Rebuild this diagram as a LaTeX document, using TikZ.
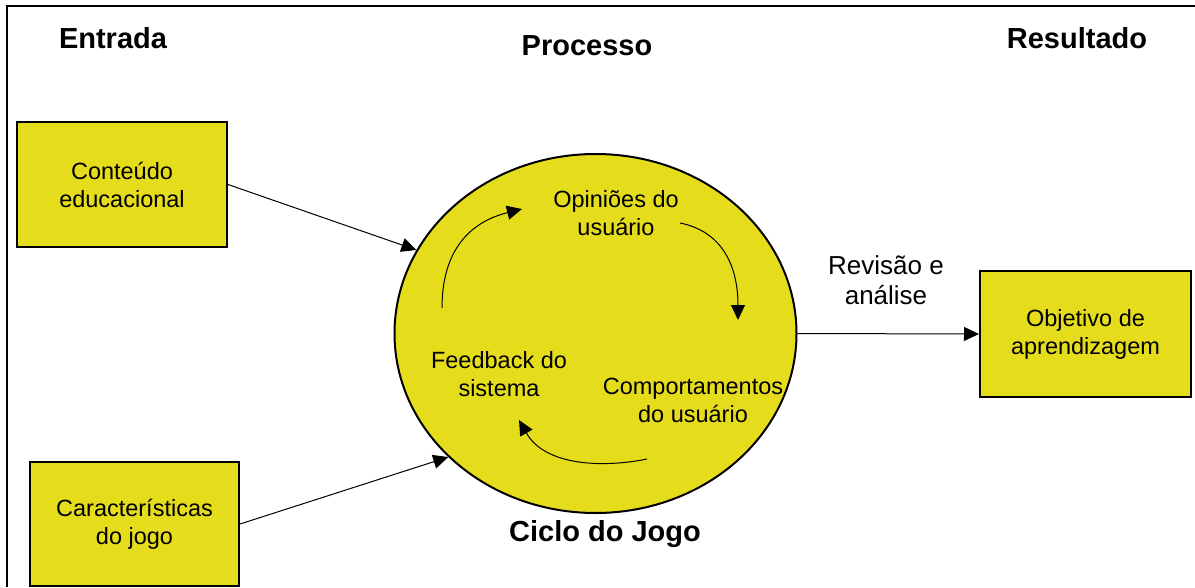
\documentclass[tikz,border=0pt]{standalone}
\usepackage{fontspec}
\setmainfont{Liberation Sans}
\usetikzlibrary{shapes.geometric,arrows.meta}
\definecolor{fillyellow}{RGB}{229,221,28}
\tikzset{
  inbox/.style={draw=black, line width=2pt, fill=fillyellow, inner sep=0pt, align=center,
    font=\fontsize{23.5}{28}\selectfont},
  heading/.style={anchor=base, inner sep=0pt, font=\fontsize{29}{34}\selectfont\bfseries},
  label/.style={inner sep=0pt, align=center, font=\fontsize{23.5}{28}\selectfont},
  conn/.style={line width=1pt, -{Triangle[length=15pt,width=14pt]}},
}
\begin{document}
\begin{tikzpicture}[x=1pt, y=-1pt]
\useasboundingbox (0,0) rectangle (1195,587);
% frame
\draw[line width=1.5pt] (7,587) -- (7,6) -- (1195,6);
% headings
\node[heading] (hin) at (113,48) {Entrada};
\node[heading] (hproc) at (587,55) {Processo};
\node[heading] (hout) at (1077,48) {Resultado};
% boxes
\node[inbox, minimum width=210pt, minimum height=125pt] (b1) at (122,184.5) {Conteúdo\\educacional};
\node[inbox, minimum width=209pt, minimum height=124pt] (b2) at (134.5,524) {Características\\do jogo};
\node[inbox, minimum width=211pt, minimum height=126pt] (b3) at (1085.5,334) {Objetivo de\\aprendizagem};
% ellipse
\node[ellipse, draw=black, line width=2pt, fill=fillyellow, minimum width=402pt, minimum height=359pt, inner sep=0pt] (ell) at (595.5,333.5) {};
\node[heading] (cap) at (605,541) {Ciclo do Jogo};
% inner labels
\node[label] (op) at (616,213) {Opiniões do\\usuário};
\node[label] (fb) at (499,374) {Feedback do\\sistema};
\node[label] (cb) at (693,400) {Comportamentos\\do usuário};
\node[label, font=\fontsize{26}{30}\selectfont] (rv) at (886,280) {Revisão e\\análise};
% connectors
\draw[conn] (b1.east) -- (ell.155.7);
\draw[conn] (b2.east) -- (ell.220.4);
\draw[conn] (ell.east) -- (b3.west);
% cycle arrows
\coordinate (c1s) at (442,308);
\coordinate (c1e) at (522,209);
\coordinate (c2s) at (680,223);
\coordinate (c2e) at (738,320);
\coordinate (c3s) at (647,459);
\coordinate (c3e) at (519,420);
\draw[conn] (c1s) .. controls (442,250) and (470,222) .. (c1e);
\draw[conn] (c2s) .. controls (725,232) and (738,270) .. (c2e);
\draw[conn] (c3s) .. controls (603,468) and (545,466) .. (c3e);
\end{tikzpicture}
\end{document}
